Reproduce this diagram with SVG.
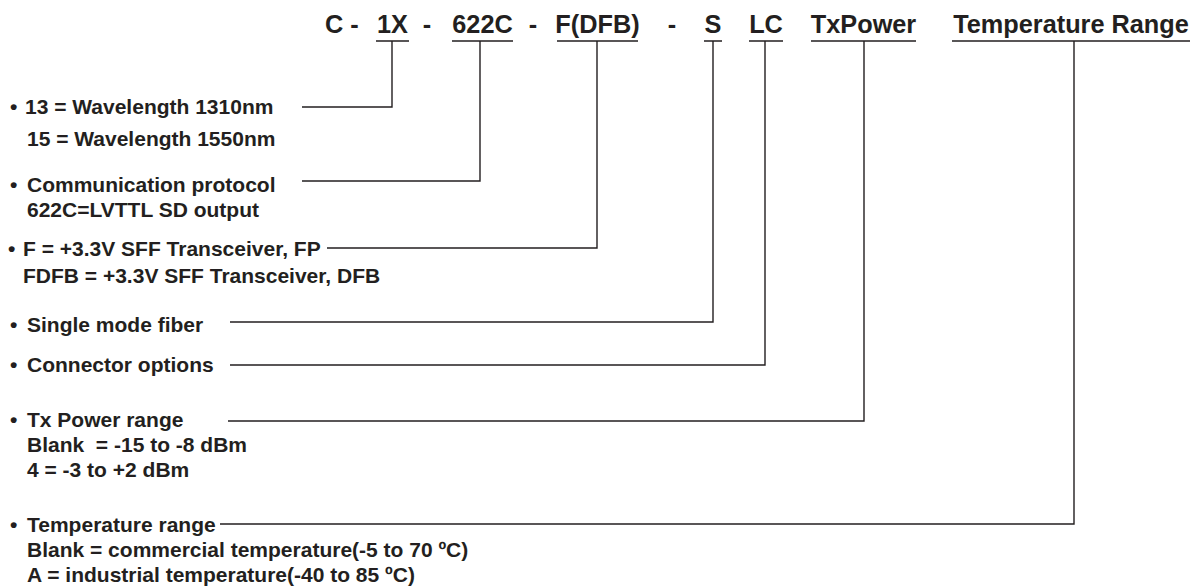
<svg xmlns="http://www.w3.org/2000/svg" width="1194" height="586" viewBox="0 0 1194 586">
<style>
.t{font-family:"Liberation Sans",Arial,sans-serif;font-weight:bold;font-size:25.3px;fill:#231f20}
.l{font-family:"Liberation Sans",Arial,sans-serif;font-weight:bold;font-size:21px;fill:#231f20}
.c{fill:none;stroke:#231f20;stroke-width:1.4}
</style>
<rect width="1194" height="586" fill="#fff"/>
<g id="title">
<text class="t" x="325" y="33">C -</text>
<text class="t" x="392.5" y="33" text-anchor="middle">1X</text>
<text class="t" x="427" y="33" text-anchor="middle">-</text>
<text class="t" x="482.5" y="33" text-anchor="middle">622C</text>
<text class="t" x="533" y="33" text-anchor="middle">-</text>
<text class="t" x="597.5" y="33" text-anchor="middle">F(DFB)</text>
<text class="t" x="672" y="33" text-anchor="middle">-</text>
<text class="t" x="713" y="33" text-anchor="middle">S</text>
<text class="t" x="766" y="33" text-anchor="middle">LC</text>
<text class="t" x="863.5" y="33" text-anchor="middle">TxPower</text>
<text class="t" x="1071" y="33" text-anchor="middle">Temperature Range</text>
</g>
<g id="connectors">
<path class="c" d="M376 41H409M392 41V107H302"/>
<path class="c" d="M452 41H513M480 41V181H302"/>
<path class="c" d="M557 41H638M597 41V248H327"/>
<path class="c" d="M704 41H722M713 41V322H230"/>
<path class="c" d="M749 41H783M765 41V365H230"/>
<path class="c" d="M811 41H916M864 41V421H228"/>
<path class="c" d="M952 41H1190M1074 41V524H220"/>
</g>
<g id="wavelength">
<text class="l" x="10" y="114">•<tspan x="25">13 = Wavelength 1310nm</tspan></text>
<text class="l" x="27" y="146">15 = Wavelength 1550nm</text>
</g>
<g id="protocol">
<text class="l" x="10" y="192">•<tspan x="27">Communication protocol</tspan></text>
<text class="l" x="27" y="217">622C=LVTTL SD output</text>
</g>
<g id="transceiver">
<text class="l" x="8" y="256">•<tspan x="23">F = +3.3V SFF Transceiver, FP</tspan></text>
<text class="l" x="23" y="283">FDFB = +3.3V SFF Transceiver, DFB</text>
</g>
<g id="fiber">
<text class="l" x="10" y="332">•<tspan x="27">Single mode fiber</tspan></text>
</g>
<g id="connector">
<text class="l" x="10" y="372">•<tspan x="27">Connector options</tspan></text>
</g>
<g id="txpower">
<text class="l" x="10" y="427">•<tspan x="27">Tx Power range</tspan></text>
<text class="l" x="27" y="452" xml:space="preserve">Blank  = -15 to -8 dBm</text>
<text class="l" x="27" y="477">4 = -3 to +2 dBm</text>
</g>
<g id="temperature">
<text class="l" x="10" y="532">•<tspan x="27">Temperature range</tspan></text>
<text class="l" x="27" y="557">Blank = commercial temperature(-5 to 70 ºC)</text>
<text class="l" x="27" y="582">A = industrial temperature(-40 to 85 ºC)</text>
</g>
</svg>
